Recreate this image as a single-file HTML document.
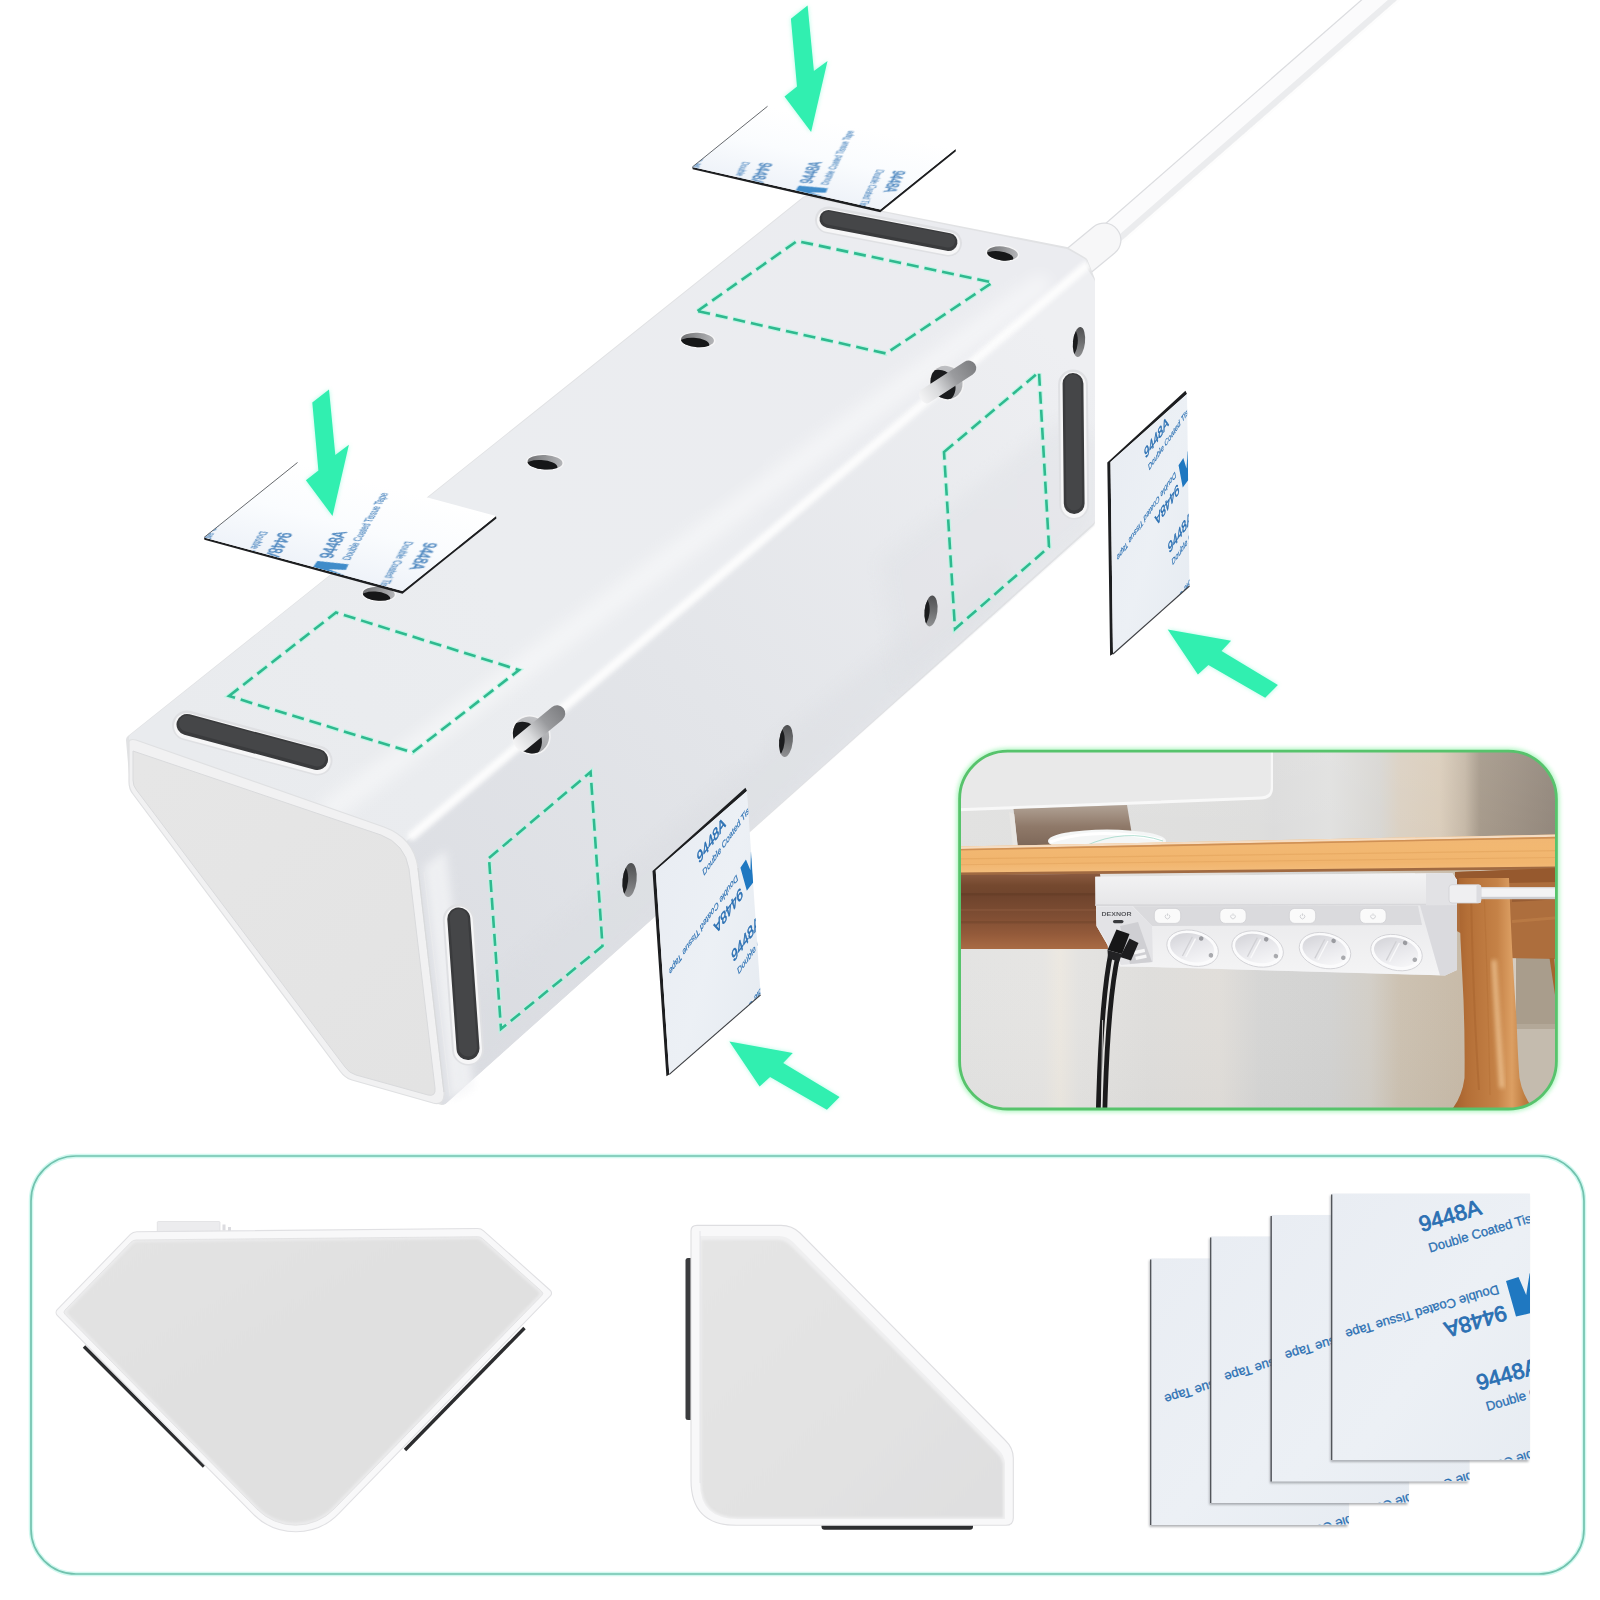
<!DOCTYPE html>
<html><head><meta charset="utf-8"><title>Adhesive mounting</title>
<style>html,body{margin:0;padding:0;background:#fff;}svg{display:block}</style></head>
<body>
<svg width="1600" height="1600" viewBox="0 0 1600 1600">
<rect width="1600" height="1600" fill="#ffffff"/>

<defs>
  <linearGradient id="gTape" x1="0" y1="0" x2="1" y2="1">
    <stop offset="0" stop-color="#e9edf3"/><stop offset="0.55" stop-color="#ecf0f5"/><stop offset="1" stop-color="#e7ecf2"/>
  </linearGradient>
  <linearGradient id="gTapeTop" x1="0" y1="0" x2="0" y2="1">
    <stop offset="0" stop-color="#ffffff"/><stop offset="0.45" stop-color="#f7f9fc"/><stop offset="1" stop-color="#e6edf6"/>
  </linearGradient>
  <clipPath id="cTape"><rect x="0" y="0" width="198" height="266"/></clipPath>
  <g id="tapeText" clip-path="url(#cTape)" font-family="'Liberation Sans', sans-serif" fill="#2b70b3">
    <g transform="translate(89.5 38.4) rotate(-16.5)">
      <text x="0" y="0" font-size="22" stroke="#2b70b3" stroke-width="0.85">9448A</text>
      <text x="2.3" y="22" font-size="13" stroke="#2b70b3" stroke-width="0.3">Double Coated Tissue Tape</text>
    </g>
    <g transform="translate(165.5 91.4) rotate(163.5)">
      <text x="0" y="0" font-size="13" stroke="#2b70b3" stroke-width="0.3">Double Coated Tissue Tape</text>
      <text x="-0.5" y="-21" font-size="22" stroke="#2b70b3" stroke-width="0.85">9448A</text>
    </g>
    <path d="M174,87.4 L186.5,83.3 L194.2,101.4 L197.6,79.8 L199,79.4 L199,119.4 L184,122.9 Z" fill="#1f78c1"/>
    <g transform="translate(147 197) rotate(-16.5)">
      <text x="0" y="0" font-size="22" stroke="#2b70b3" stroke-width="0.85">9448A</text>
      <text x="2.3" y="22" font-size="13" stroke="#2b70b3" stroke-width="0.3">Double Coated Tissue Tape</text>
    </g>
    <g transform="translate(223 250) rotate(163.5)">
      <text x="0" y="0" font-size="13" stroke="#2b70b3" stroke-width="0.3">Double Coated Tissue Tape</text>
    </g>
  </g>
  <filter id="fGlow" x="-30%" y="-30%" width="160%" height="160%">
    <feGaussianBlur stdDeviation="3"/>
  </filter>
  <filter id="fBlur2" x="-50%" y="-50%" width="200%" height="200%"><feGaussianBlur stdDeviation="2"/></filter>
  <filter id="fBlur4" x="-50%" y="-50%" width="200%" height="200%"><feGaussianBlur stdDeviation="4"/></filter>
  <filter id="fBlur8" x="-100%" y="-100%" width="300%" height="300%"><feGaussianBlur stdDeviation="8"/></filter>
  <filter id="fBlur1"><feGaussianBlur stdDeviation="1"/></filter>
  <linearGradient id="gTopFace" gradientUnits="userSpaceOnUse" x1="200" y1="760" x2="1000" y2="230">
    <stop offset="0" stop-color="#e9ebee"/><stop offset="0.35" stop-color="#ebedf0"/><stop offset="1" stop-color="#ebecf0"/>
  </linearGradient>
  <linearGradient id="gRightFace" gradientUnits="userSpaceOnUse" x1="430" y1="1000" x2="1090" y2="380">
    <stop offset="0" stop-color="#dcdee3"/><stop offset="0.45" stop-color="#e3e5e9"/><stop offset="1" stop-color="#eeeff2"/>
  </linearGradient>
  <linearGradient id="gCap" gradientUnits="userSpaceOnUse" x1="150" y1="760" x2="440" y2="1080">
    <stop offset="0" stop-color="#e6e6e6"/><stop offset="1" stop-color="#e3e3e3"/>
  </linearGradient>
</defs>


<g id="cable">
  <line x1="1391" y1="-10" x2="1090" y2="253" stroke="#dcdde0" stroke-width="25" stroke-linecap="butt"/>
  <line x1="1391" y1="-10" x2="1090" y2="253" stroke="#fbfbfc" stroke-width="22.5" stroke-linecap="butt"/>
  <line x1="1397" y1="-4" x2="1096" y2="259" stroke="#ebecee" stroke-width="6" stroke-linecap="butt"/>
  <line x1="1400" y1="-1" x2="1099" y2="262" stroke="#fdfdfd" stroke-width="2.5" stroke-linecap="butt"/>
  <line x1="1104" y1="240" x2="1070" y2="268" stroke="#dcdde0" stroke-width="35" stroke-linecap="round"/>
  <line x1="1104" y1="240" x2="1070" y2="268" stroke="#f7f7f8" stroke-width="32.5" stroke-linecap="round"/>
</g>

<g id="body">
<polygon points="131.0,740.0 806.0,201.0 1066.0,252.0 1083.0,262.0 1090.0,280.0 1090.0,522.0 442.0,1100.0 350.0,1074.0 135.0,786.0" fill="#e4e5e7" stroke="#e1e2e4" stroke-width="10" stroke-linejoin="round"/>
<polygon points="406.0,846.0 1082.0,268.0 1091.0,282.0 1091.0,520.0 444.0,1100.0" fill="url(#gRightFace)" stroke="url(#gRightFace)" stroke-width="8" stroke-linejoin="round"/>
<polygon points="133.0,738.0 806.0,201.0 1066.0,253.0 1082.0,262.0 404.0,838.0" fill="url(#gTopFace)" stroke="url(#gTopFace)" stroke-width="8" stroke-linejoin="round"/>
<defs><clipPath id="cBody"><polygon points="127.0,738.0 806.0,196.0 1066.0,248.0 1086.0,258.0 1095.0,280.0 1095.0,526.0 442.0,1106.0 347.0,1079.0 130.0,788.0"/></clipPath></defs>
<g clip-path="url(#cBody)">
<line x1="412" y1="836" x2="1086" y2="266" stroke="#fdfdfd" stroke-width="9" stroke-linecap="round" filter="url(#fBlur2)" opacity="0.95"/>
<line x1="330" y1="810" x2="1040" y2="285" stroke="#ffffff" stroke-width="22" stroke-linecap="round" filter="url(#fBlur8)" opacity="0.45"/>
<polygon points="470.0,1000.0 800.0,720.0 1000.0,560.0 1010.0,600.0 470.0,1085.0" fill="#d8dadf" filter="url(#fBlur8)" opacity="0.3"/>
<polygon points="880.0,560.0 1060.0,420.0 1095.0,440.0 1095.0,530.0 900.0,690.0" fill="#dfe1e5" filter="url(#fBlur8)" opacity="0.45"/>
</g>
<path d="M129,744 Q128,738 136,740 L384,827 Q414,838 418,868 L444,1092 Q445,1106 433,1103 L352,1080 Q345,1078 340,1071 L133,794 Q129,789 129,782 Z" fill="#f1f1f2" stroke="#dfe0e2" stroke-width="1.2"/>
<path d="M133,751 L381,835 Q405,844 409,869 L435,1088 Q436,1097 428,1095 L356,1075 Q349,1073 345,1067 L136.5,790 Q133,786 133,780 Z" fill="url(#gCap)" stroke="#d9dadc" stroke-width="1"/>
<path d="M418,868 L444,1092" stroke="#d6d7d9" stroke-width="1.2" fill="none"/>
<path d="M424,872 L450,1096" stroke="#e4e5e7" stroke-width="1" fill="none"/>
<polygon points="424,866 446,850 474,1088 450,1100" fill="#f4f5f7" opacity="0.75" filter="url(#fBlur4)"/>
<line x1="828.5" y1="220.0" x2="948.5" y2="243.0" stroke="#dfe0e3" stroke-width="27.0" stroke-linecap="round"/>
<line x1="828.5" y1="220.5" x2="948.5" y2="243.5" stroke="#f6f6f7" stroke-width="23.0" stroke-linecap="round"/>
<line x1="828.5" y1="219.0" x2="948.5" y2="242.0" stroke="#3a3b3d" stroke-width="18.0" stroke-linecap="round"/>
<line x1="828.5" y1="218.0" x2="948.5" y2="241.0" stroke="#454648" stroke-width="13.0" stroke-linecap="round"/>
<line x1="187.0" y1="725.5" x2="317.5" y2="760.5" stroke="#dfe0e3" stroke-width="30.0" stroke-linecap="round"/>
<line x1="187.0" y1="726.0" x2="317.5" y2="761.0" stroke="#f6f6f7" stroke-width="26.0" stroke-linecap="round"/>
<line x1="187.0" y1="724.5" x2="317.5" y2="759.5" stroke="#3a3b3d" stroke-width="21.0" stroke-linecap="round"/>
<line x1="187.0" y1="723.5" x2="317.5" y2="758.5" stroke="#454648" stroke-width="16.0" stroke-linecap="round"/>
<line x1="458.8" y1="920.0" x2="468.0" y2="1049.5" stroke="#dfe0e3" stroke-width="32.0" stroke-linecap="round"/>
<line x1="458.8" y1="920.5" x2="468.0" y2="1050.0" stroke="#f6f6f7" stroke-width="28.0" stroke-linecap="round"/>
<line x1="458.8" y1="919.0" x2="468.0" y2="1048.5" stroke="#3a3b3d" stroke-width="23.0" stroke-linecap="round"/>
<line x1="458.8" y1="918.0" x2="468.0" y2="1047.5" stroke="#454648" stroke-width="18.0" stroke-linecap="round"/>
<line x1="1073.0" y1="384.5" x2="1074.2" y2="504.5" stroke="#dfe0e3" stroke-width="29.8" stroke-linecap="round"/>
<line x1="1073.0" y1="385.0" x2="1074.2" y2="505.0" stroke="#f6f6f7" stroke-width="25.8" stroke-linecap="round"/>
<line x1="1073.0" y1="383.5" x2="1074.2" y2="503.5" stroke="#3a3b3d" stroke-width="20.8" stroke-linecap="round"/>
<line x1="1073.0" y1="382.5" x2="1074.2" y2="502.5" stroke="#454648" stroke-width="15.8" stroke-linecap="round"/>
<defs><linearGradient id="gHoleT" x1="0" y1="0" x2="1" y2="0"><stop offset="0" stop-color="#707173"/><stop offset="1" stop-color="#b4b5b8"/></linearGradient><linearGradient id="gHoleS" x1="0" y1="0" x2="0" y2="1"><stop offset="0" stop-color="#4f5052"/><stop offset="0.5" stop-color="#6d6e70"/><stop offset="1" stop-color="#909193"/></linearGradient></defs>
<g transform="translate(378.8 593.8) rotate(3)"><defs><clipPath id="cH1"><ellipse rx="16.0" ry="7.0"/></clipPath></defs><ellipse rx="17.5" ry="8.2" fill="#f6f6f7"/><ellipse rx="16.0" ry="7.0" fill="url(#gHoleT)"/><g clip-path="url(#cH1)"><ellipse cx="-3.5" cy="4.3" rx="15.2" ry="6.3" fill="#161718"/></g></g>
<g transform="translate(545.0 462.3) rotate(3)"><defs><clipPath id="cH2"><ellipse rx="17.5" ry="7.2"/></clipPath></defs><ellipse rx="19.0" ry="8.4" fill="#f6f6f7"/><ellipse rx="17.5" ry="7.2" fill="url(#gHoleT)"/><g clip-path="url(#cH2)"><ellipse cx="-3.9" cy="4.5" rx="16.6" ry="6.5" fill="#161718"/></g></g>
<g transform="translate(697.5 340.0) rotate(3)"><defs><clipPath id="cH3"><ellipse rx="16.5" ry="7.2"/></clipPath></defs><ellipse rx="18.0" ry="8.4" fill="#f6f6f7"/><ellipse rx="16.5" ry="7.2" fill="url(#gHoleT)"/><g clip-path="url(#cH3)"><ellipse cx="-3.6" cy="4.5" rx="15.7" ry="6.5" fill="#161718"/></g></g>
<g transform="translate(1002.5 253.5) rotate(6)"><defs><clipPath id="cH4"><ellipse rx="15.5" ry="7.0"/></clipPath></defs><ellipse rx="17.0" ry="8.2" fill="#f6f6f7"/><ellipse rx="15.5" ry="7.0" fill="url(#gHoleT)"/><g clip-path="url(#cH4)"><ellipse cx="-3.4" cy="4.3" rx="14.7" ry="6.3" fill="#161718"/></g></g>
<g transform="translate(629.6 880.0) rotate(6)"><defs><clipPath id="cH5"><ellipse rx="7.0" ry="17.0"/></clipPath></defs><ellipse rx="7.0" ry="17.0" fill="url(#gHoleS)"/><g clip-path="url(#cH5)"><ellipse cx="-8.0" cy="2.0" rx="6.6" ry="15.3" fill="#1b1c1e"/></g></g>
<g transform="translate(786.0 741.0) rotate(6)"><defs><clipPath id="cH6"><ellipse rx="6.8" ry="16.0"/></clipPath></defs><ellipse rx="6.8" ry="16.0" fill="url(#gHoleS)"/><g clip-path="url(#cH6)"><ellipse cx="-7.8" cy="1.9" rx="6.5" ry="14.4" fill="#1b1c1e"/></g></g>
<g transform="translate(931.0 611.0) rotate(6)"><defs><clipPath id="cH7"><ellipse rx="6.4" ry="15.5"/></clipPath></defs><ellipse rx="6.4" ry="15.5" fill="url(#gHoleS)"/><g clip-path="url(#cH7)"><ellipse cx="-7.4" cy="1.9" rx="6.1" ry="14.0" fill="#1b1c1e"/></g></g>
<g transform="translate(1079.0 342.0) rotate(6)"><defs><clipPath id="cH8"><ellipse rx="6.0" ry="15.0"/></clipPath></defs><ellipse rx="6.0" ry="15.0" fill="url(#gHoleS)"/><g clip-path="url(#cH8)"><ellipse cx="-6.9" cy="1.8" rx="5.7" ry="13.5" fill="#1b1c1e"/></g></g>
<defs><linearGradient id="gBand" x1="0" y1="0" x2="1" y2="0"><stop offset="0" stop-color="#f4f4f5"/><stop offset="0.3" stop-color="#d9dadc"/><stop offset="0.62" stop-color="#9a9b9e"/><stop offset="1" stop-color="#7c7d80"/></linearGradient><linearGradient id="gHole" x1="0" y1="1" x2="1" y2="0"><stop offset="0" stop-color="#8f9093"/><stop offset="1" stop-color="#d4d5d8"/></linearGradient></defs>
<g transform="translate(531.0 735.0) rotate(-39.5)"><defs><clipPath id="cHook1"><ellipse cx="0" cy="0" rx="17.5" ry="19.0"/></clipPath></defs><ellipse cx="0" cy="0" rx="19.1" ry="20.6" fill="#f3f3f4"/><g clip-path="url(#cHook1)"><rect x="-30" y="-30" width="60" height="60" fill="url(#gHole)"/><ellipse cx="-8.9" cy="-0.5" rx="17.5" ry="19.0" fill="#1a1b1d"/></g><path d="M-14.0,-8.3 L33.7,-8.3 A8.3,8.3 0 0 1 33.7,8.3 L-14.0,8.3 A5.0,8.3 0 0 1 -14.0,-8.3 Z" fill="url(#gBand)"/></g>
<g transform="translate(946.5 382.5) rotate(-33.0)"><defs><clipPath id="cHook2"><ellipse cx="0" cy="0" rx="15.6" ry="17.0"/></clipPath></defs><ellipse cx="0" cy="0" rx="17.2" ry="18.6" fill="#f3f3f4"/><g clip-path="url(#cHook2)"><rect x="-30" y="-30" width="60" height="60" fill="url(#gHole)"/><ellipse cx="-8.0" cy="-0.5" rx="15.6" ry="17.0" fill="#1a1b1d"/></g><path d="M-26.0,-7.6 L26.4,-7.6 A7.6,7.6 0 0 1 26.4,7.6 L-26.0,7.6 A4.6,7.6 0 0 1 -26.0,-7.6 Z" fill="url(#gBand)"/></g>
<polygon points="697.5,311.0 797.0,241.0 992.5,282.5 886.0,353.5" fill="none" stroke="#b5f7e2" stroke-width="5" stroke-dasharray="13 5" stroke-dashoffset="0.5" stroke-linejoin="miter" opacity="0.8"/>
<polygon points="697.5,311.0 797.0,241.0 992.5,282.5 886.0,353.5" fill="none" stroke="#2fb98f" stroke-width="2.6" stroke-dasharray="12 6" stroke-linejoin="miter"/>
<polygon points="229.0,696.0 336.0,612.5 519.0,670.0 412.5,752.5" fill="none" stroke="#b5f7e2" stroke-width="5" stroke-dasharray="13 5" stroke-dashoffset="0.5" stroke-linejoin="miter" opacity="0.8"/>
<polygon points="229.0,696.0 336.0,612.5 519.0,670.0 412.5,752.5" fill="none" stroke="#2fb98f" stroke-width="2.6" stroke-dasharray="12 6" stroke-linejoin="miter"/>
<polygon points="944.0,452.0 1039.0,372.0 1049.0,547.0 955.0,629.0" fill="none" stroke="#b5f7e2" stroke-width="5" stroke-dasharray="13 5" stroke-dashoffset="0.5" stroke-linejoin="miter" opacity="0.8"/>
<polygon points="944.0,452.0 1039.0,372.0 1049.0,547.0 955.0,629.0" fill="none" stroke="#2fb98f" stroke-width="2.6" stroke-dasharray="12 6" stroke-linejoin="miter"/>
<polygon points="489.0,858.0 590.6,772.0 602.5,946.0 501.0,1029.0" fill="none" stroke="#b5f7e2" stroke-width="5" stroke-dasharray="13 5" stroke-dashoffset="0.5" stroke-linejoin="miter" opacity="0.8"/>
<polygon points="489.0,858.0 590.6,772.0 602.5,946.0 501.0,1029.0" fill="none" stroke="#2fb98f" stroke-width="2.6" stroke-dasharray="12 6" stroke-linejoin="miter"/>
</g>
<defs><linearGradient id="gTapeTopL" x1="0" y1="0" x2="1" y2="0">
  <stop offset="0" stop-color="#ffffff"/><stop offset="0.5" stop-color="#fafcfe"/><stop offset="1" stop-color="#eff3f9"/></linearGradient>
  <linearGradient id="gFadeTop" x1="0" y1="1" x2="0" y2="0"><stop offset="0" stop-color="#fff" stop-opacity="0"/><stop offset="1" stop-color="#fff" stop-opacity="0.9"/></linearGradient>
  </defs>
<g id="topTapes">
<polygon points="692.3,167.0 692.7,169.3 880.3,212.3 955.9,151.3 955.5,148.9 880.3,209.6" fill="#1d1e20"/><g transform="matrix(-0.37980 0.30657 -0.70677 -0.16015 955.500 148.900)"><rect x="0" y="0" width="198" height="266" fill="url(#gTapeTopL)"/><use href="#tapeText" opacity="0.85"/></g><line x1="692.3" y1="167.0" x2="767.5" y2="106.3" stroke="#55585c" stroke-width="0.9"/>
<polygon points="204.0,537.5 204.4,539.8 402.5,593.7 496.4,518.4 496.0,516.0 402.5,591.0" fill="#1d1e20"/><g transform="matrix(-0.47222 0.37879 -0.74624 -0.20113 496.000 516.000)"><rect x="0" y="0" width="198" height="266" fill="url(#gTapeTopL)"/><use href="#tapeText" opacity="0.85"/></g><line x1="204.0" y1="537.5" x2="297.5" y2="462.5" stroke="#55585c" stroke-width="0.9"/>
</g>
<g id="sideTapes">
<polygon points="1107.3,462.6 1185.4,390.8 1187.0,394.0 1110.5,462.0 1113.0,654.0 1110.1,655.8" fill="#1d1e20"/><g transform="matrix(0.38636 -0.34343 0.00940 0.72180 1110.500 462.000)"><rect x="0" y="0" width="198" height="266" fill="url(#gTape)"/><use href="#tapeText" opacity="1.00"/></g><line x1="1113.0" y1="654.0" x2="1189.5" y2="586.0" stroke="#3c3e42" stroke-width="1.2"/>
<polygon points="652.5,871.1 745.4,787.8 747.0,791.0 655.7,870.5 669.3,1074.4 666.4,1076.2" fill="#1d1e20"/><g transform="matrix(0.46111 -0.40152 0.05113 0.76654 655.700 870.500)"><rect x="0" y="0" width="198" height="266" fill="url(#gTape)"/><use href="#tapeText" opacity="1.00"/></g><line x1="669.3" y1="1074.4" x2="760.6" y2="994.9" stroke="#3c3e42" stroke-width="1.2"/>
</g>
<g id="arrows">
<polygon points="790.9,18.7 807.6,5.6 813.9,71.1 827.5,60.9 811.1,132.1 784.5,96.5 797.0,86.6" fill="#5ff5c8" opacity="0.5" filter="url(#fBlur2)"/><polygon points="790.9,18.7 807.6,5.6 813.9,71.1 827.5,60.9 811.1,132.1 784.5,96.5 797.0,86.6" fill="#31efb0"/>
<polygon points="312.3,402.5 329.0,389.4 335.3,454.9 348.9,444.7 332.5,515.9 305.9,480.3 318.4,470.4" fill="#5ff5c8" opacity="0.5" filter="url(#fBlur2)"/><polygon points="312.3,402.5 329.0,389.4 335.3,454.9 348.9,444.7 332.5,515.9 305.9,480.3 318.4,470.4" fill="#31efb0"/>
<polygon points="1167.7,629.4 1231.1,640.8 1221.5,650.9 1277.9,685.0 1265.2,697.7 1208.4,664.9 1197.9,674.5" fill="#5ff5c8" opacity="0.5" filter="url(#fBlur2)"/><polygon points="1167.7,629.4 1231.1,640.8 1221.5,650.9 1277.9,685.0 1265.2,697.7 1208.4,664.9 1197.9,674.5" fill="#31efb0"/>
<polygon points="729.4,1041.5 792.8,1052.9 783.2,1063.0 839.6,1097.1 826.9,1109.8 770.1,1077.0 759.6,1086.6" fill="#5ff5c8" opacity="0.5" filter="url(#fBlur2)"/><polygon points="729.4,1041.5 792.8,1052.9 783.2,1063.0 839.6,1097.1 826.9,1109.8 770.1,1077.0 759.6,1086.6" fill="#31efb0"/>
</g>
<defs>
  <clipPath id="cInset"><rect x="959.6" y="751.2" width="596.8" height="357.8" rx="48" ry="48"/></clipPath>
  <linearGradient id="gWall" gradientUnits="userSpaceOnUse" x1="959" y1="0" x2="1557" y2="0">
    <stop offset="0" stop-color="#e0e0df"/><stop offset="0.50" stop-color="#dcdcdb"/><stop offset="0.525" stop-color="#dadada"/><stop offset="0.62" stop-color="#dfdfde"/>
    <stop offset="0.704" stop-color="#d6d4d0"/><stop offset="0.737" stop-color="#d9cebf"/><stop offset="0.804" stop-color="#d8cab7"/>
    <stop offset="0.846" stop-color="#c2b4a2"/><stop offset="0.871" stop-color="#a19484"/><stop offset="0.921" stop-color="#998c7e"/><stop offset="1" stop-color="#8b7f73"/>
  </linearGradient>
  <linearGradient id="gWallLow" gradientUnits="userSpaceOnUse" x1="959" y1="0" x2="1557" y2="0">
    <stop offset="0" stop-color="#e3e3e2"/><stop offset="0.14" stop-color="#e6e5e3"/><stop offset="0.169" stop-color="#ece8e1"/><stop offset="0.2" stop-color="#e4e3e1"/>
    <stop offset="0.32" stop-color="#dfdedc"/><stop offset="0.436" stop-color="#e1deda"/><stop offset="0.503" stop-color="#d6d6d5"/><stop offset="0.62" stop-color="#d3d3d2"/>
    <stop offset="0.687" stop-color="#d3cfc8"/><stop offset="0.737" stop-color="#cdc2b2"/><stop offset="0.838" stop-color="#c8bba9"/><stop offset="0.93" stop-color="#d6cdc1"/><stop offset="1" stop-color="#cfc6ba"/>
  </linearGradient>
  <linearGradient id="gStand" x1="0" y1="0" x2="0" y2="1"><stop offset="0" stop-color="#b1a295"/><stop offset="0.5" stop-color="#8f7969"/><stop offset="1" stop-color="#7c6657"/></linearGradient>
  <linearGradient id="gWallV" x1="0" y1="0" x2="0" y2="1">
    <stop offset="0" stop-color="#ffffff" stop-opacity="0.12"/><stop offset="0.5" stop-color="#ffffff" stop-opacity="0"/><stop offset="1" stop-color="#000000" stop-opacity="0.02"/>
  </linearGradient>
  <linearGradient id="gDeskTop" x1="0" y1="0" x2="0" y2="1">
    <stop offset="0" stop-color="#f0b673"/><stop offset="0.3" stop-color="#f2b872"/><stop offset="0.7" stop-color="#f1b56e"/><stop offset="1" stop-color="#f4bf7f"/>
  </linearGradient>
  <linearGradient id="gApron" x1="0" y1="0" x2="0" y2="1">
    <stop offset="0" stop-color="#8a5a40"/><stop offset="0.15" stop-color="#75492f"/><stop offset="0.3" stop-color="#6f442d"/><stop offset="0.55" stop-color="#7e4d33"/><stop offset="0.8" stop-color="#935a3a"/><stop offset="1" stop-color="#a96b44"/>
  </linearGradient>
  <linearGradient id="gLeg" x1="0" y1="0" x2="1" y2="0">
    <stop offset="0" stop-color="#a05c2b"/><stop offset="0.2" stop-color="#b46f37"/><stop offset="0.55" stop-color="#c58247"/><stop offset="0.72" stop-color="#dc9f63"/><stop offset="0.86" stop-color="#c07e42"/><stop offset="1" stop-color="#aa6832"/>
  </linearGradient>
  <linearGradient id="gStripTop" x1="0" y1="0" x2="0" y2="1">
    <stop offset="0" stop-color="#f3f3f4"/><stop offset="1" stop-color="#e6e6e8"/>
  </linearGradient>
  <linearGradient id="gStripFront" x1="0" y1="0" x2="0" y2="1">
    <stop offset="0" stop-color="#e9e9eb"/><stop offset="1" stop-color="#f4f4f5"/>
  </linearGradient>
  <linearGradient id="gSock2" x1="0" y1="0" x2="1" y2="1"><stop offset="0" stop-color="#cfcfd4"/><stop offset="0.45" stop-color="#e6e6ea"/><stop offset="1" stop-color="#fbfbfc"/></linearGradient>
  <radialGradient id="gSock" cx="0.4" cy="0.35" r="0.75">
    <stop offset="0" stop-color="#ffffff"/><stop offset="0.6" stop-color="#f1f1f3"/><stop offset="1" stop-color="#cfcfd3"/>
  </radialGradient>
</defs>
<rect x="959.6" y="751.2" width="596.8" height="357.8" rx="48" ry="48" fill="none" stroke="#7cf09a" stroke-width="6" filter="url(#fBlur2)" opacity="0.6"/>
<g clip-path="url(#cInset)">
<rect x="955" y="745" width="610" height="130" fill="url(#gWall)"/>
<rect x="955" y="870" width="610" height="245" fill="url(#gWallLow)"/>
<rect x="955" y="745" width="610" height="370" fill="url(#gWallV)"/>
<path d="M955,745 L1272.5,745 L1272.5,788 Q1272,798 1261,798.5 L955,810.5 Z" fill="#e9e9e9"/>
<path d="M955,808.5 L1261,796.5 Q1270.5,796 1270.8,788 L1270.8,745 L1273,745 L1273,789 Q1272.5,799 1261,799.5 L955,811.5 Z" fill="#f8f8f8"/>
<path d="M1013.5,809 L1127,805 L1134,847 L1018,848 Z" fill="url(#gStand)"/>
<path d="M1014.2,814 L1017.6,847 L1013,847 L1009,812 Z" fill="#e8e6e3"/>
<ellipse cx="1107" cy="841" rx="59" ry="11.5" fill="#f4f6f6"/>
<path d="M1050,842 Q1095,826 1162,840" stroke="#ffffff" stroke-width="3" fill="none"/>
<path d="M1085,846 Q1125,828 1163,841" stroke="#9fd8c8" stroke-width="0.8" fill="none"/>
<polygon points="955,846.5 1560,834.5 1560,868 955,874.5" fill="url(#gDeskTop)"/>
<polygon points="955,846.5 1560,834.5 1560,836.8 955,849" fill="#f5dcc2"/>
<polygon points="955,849 1560,836.8 1560,838.4 955,850.6" fill="#cf9055"/>
<polygon points="955,858.3 1560,850 1560,851.2 955,859.6" fill="#e3a35c" opacity="0.6"/>
<polygon points="955,864.3 1560,857 1560,858 955,865.3" fill="#e0a05a" opacity="0.5"/>
<polygon points="955,872.6 1560,866.4 1560,869.2 955,875.5" fill="#a06a42"/>
<polygon points="955,875 1100,873.8 1108,949 955,949" fill="url(#gApron)"/>
<rect x="955" y="893" width="150" height="2.5" fill="#5e3823" opacity="0.45"/>
<rect x="955" y="909" width="150" height="2" fill="#8c5a3e" opacity="0.5"/>
<rect x="955" y="921" width="150" height="2.4" fill="#6a4029" opacity="0.4"/>
<rect x="1516" y="955" width="45" height="75" fill="#a99d8c"/>
<rect x="1516" y="1026" width="45" height="90" fill="#c4bbae"/>
<rect x="1516" y="1024" width="45" height="5" fill="#b3a898"/>
<polygon points="1455,872 1560,868 1560,959 1505,958 1455,930" fill="#ad6e3d"/>
<polygon points="1455,872 1560,868 1560,882 1455,884" fill="#96592e"/>
<polygon points="1512,896 1560,893 1560,899 1512,902" fill="#8f5630" opacity="0.7"/>
<polygon points="1512,920 1560,916 1560,919 1512,923" fill="#c08049" opacity="0.6"/>
<polygon points="1549.5,958 1554,958 1557.5,995 1555,995" fill="#a5652f"/>
<path d="M1458.5,878 L1509,878 Q1511.5,950 1516.5,1019 Q1518,1060 1519.5,1078 Q1523,1098 1536,1112 L1450,1112 Q1462,1098 1464.5,1078 Q1465,1040 1463.5,1000 Q1460,940 1458.5,878 Z" fill="url(#gLeg)"/>
<path d="M1494,960 Q1498,1030 1502,1088" stroke="#f7d2a3" stroke-width="5" fill="none" opacity="0.7" filter="url(#fBlur2)"/>
<path d="M1471,890 Q1473,1000 1479,1090" stroke="#a3602b" stroke-width="2" fill="none" opacity="0.4"/>
<path d="M1484,890 Q1488,990 1490,1095" stroke="#b06c33" stroke-width="1.2" fill="none" opacity="0.4"/>
<polygon points="1095.3,876.7 1452,873 1457,880 1457,970 1445,975.5 1152,967 1120,966.5 1096.5,926" fill="#ebebed"/>
<polygon points="1095.3,876.7 1452,873 1457,880 1457,905 1095.3,905.5" fill="url(#gStripTop)"/>
<polygon points="1095.3,904.2 1457,903.8 1457,905.6 1095.3,906" fill="#d7d7da"/>
<polygon points="1096,906 1420,905.5 1440,975.3 1152,967 1120,966.5 1096.5,926" fill="url(#gStripFront)"/>
<polygon points="1420,905.5 1457,905 1457,970 1445,975.5 1440,975.3" fill="#dadade"/>
<polygon points="1426,873.3 1452,873 1457,880 1457,905 1426,905.3" fill="#e2e2e5"/>
<polygon points="1133,906.3 1418,905.8 1422,925 1152,926" fill="#dadadd"/>
<polygon points="1096.5,907 1132,906.5 1152,926 1153,962 1121,965 1097,926" fill="#e3e3e6"/>
<polygon points="1120,926 1138,922 1152,962 1130,964" fill="#cfcfd3"/>
<text x="1101.5" y="915.6" font-family="'Liberation Sans', sans-serif" font-size="4.6" font-weight="bold" fill="#5b5c60" textLength="30" lengthAdjust="spacingAndGlyphs">DEXNOR</text>
<rect x="1113" y="920" width="10.5" height="3.2" rx="1.6" fill="#3a3b3e"/>
<rect x="1134" y="950" width="11" height="3.4" fill="#f6f6f7" transform="rotate(-12 1139 952)"/>
<rect x="1135.5" y="955.5" width="11" height="3.4" fill="#f6f6f7" transform="rotate(-12 1141 957)"/>
<rect x="1154.3" y="908.4" width="26.4" height="15" rx="5.5" fill="#fafafa" stroke="#cfcfd3" stroke-width="0.8"/>
<path d="M1166.2,914.6 a2.3,2.3 0 1 0 2.6,0 M1167.5,913.4 v2.4" fill="none" stroke="#c9cace" stroke-width="0.8"/>
<rect x="1219.8" y="908.4" width="26.4" height="15" rx="5.5" fill="#fafafa" stroke="#cfcfd3" stroke-width="0.8"/>
<path d="M1231.7,914.6 a2.3,2.3 0 1 0 2.6,0 M1233.0,913.4 v2.4" fill="none" stroke="#c9cace" stroke-width="0.8"/>
<rect x="1289.3" y="908.4" width="26.4" height="15" rx="5.5" fill="#fafafa" stroke="#cfcfd3" stroke-width="0.8"/>
<path d="M1301.2,914.6 a2.3,2.3 0 1 0 2.6,0 M1302.5,913.4 v2.4" fill="none" stroke="#c9cace" stroke-width="0.8"/>
<rect x="1359.8" y="908.4" width="26.4" height="15" rx="5.5" fill="#fafafa" stroke="#cfcfd3" stroke-width="0.8"/>
<path d="M1371.7,914.6 a2.3,2.3 0 1 0 2.6,0 M1373.0,913.4 v2.4" fill="none" stroke="#c9cace" stroke-width="0.8"/>
<g transform="translate(1192.6 948.2) rotate(14)"><ellipse rx="26.2" ry="17.6" fill="#fbfbfc" stroke="#d2d2d6" stroke-width="0.9"/><ellipse cx="-0.5" cy="-0.4" rx="22.5" ry="14.2" fill="url(#gSock2)"/><path d="M-3,-11 L-8,10" stroke="#d0d0d4" stroke-width="1.3"/><path d="M0.5,-10 L-4.5,10.5" stroke="#f9f9fa" stroke-width="1.3"/><circle cx="6" cy="-11.5" r="2.3" fill="#9a9ba0"/><circle cx="19.5" cy="2.5" r="2.3" fill="#a9aaae"/></g>
<g transform="translate(1257.6 949.0) rotate(14)"><ellipse rx="26.2" ry="17.6" fill="#fbfbfc" stroke="#d2d2d6" stroke-width="0.9"/><ellipse cx="-0.5" cy="-0.4" rx="22.5" ry="14.2" fill="url(#gSock2)"/><path d="M-3,-11 L-8,10" stroke="#d0d0d4" stroke-width="1.3"/><path d="M0.5,-10 L-4.5,10.5" stroke="#f9f9fa" stroke-width="1.3"/><circle cx="6" cy="-11.5" r="2.3" fill="#9a9ba0"/><circle cx="19.5" cy="2.5" r="2.3" fill="#a9aaae"/></g>
<g transform="translate(1325.0 950.6) rotate(14)"><ellipse rx="26.2" ry="17.6" fill="#fbfbfc" stroke="#d2d2d6" stroke-width="0.9"/><ellipse cx="-0.5" cy="-0.4" rx="22.5" ry="14.2" fill="url(#gSock2)"/><path d="M-3,-11 L-8,10" stroke="#d0d0d4" stroke-width="1.3"/><path d="M0.5,-10 L-4.5,10.5" stroke="#f9f9fa" stroke-width="1.3"/><circle cx="6" cy="-11.5" r="2.3" fill="#9a9ba0"/><circle cx="19.5" cy="2.5" r="2.3" fill="#a9aaae"/></g>
<g transform="translate(1396.5 952.6) rotate(14)"><ellipse rx="26.2" ry="17.6" fill="#fbfbfc" stroke="#d2d2d6" stroke-width="0.9"/><ellipse cx="-0.5" cy="-0.4" rx="22.5" ry="14.2" fill="url(#gSock2)"/><path d="M-3,-11 L-8,10" stroke="#d0d0d4" stroke-width="1.3"/><path d="M0.5,-10 L-4.5,10.5" stroke="#f9f9fa" stroke-width="1.3"/><circle cx="6" cy="-11.5" r="2.3" fill="#9a9ba0"/><circle cx="19.5" cy="2.5" r="2.3" fill="#a9aaae"/></g>
<rect x="1456" y="887.5" width="104" height="11.5" fill="#f3f3f4"/>
<rect x="1456" y="896.8" width="104" height="2.4" fill="#cdcdd0"/>
<rect x="1456" y="887.2" width="104" height="1.2" fill="#dedee1"/>
<rect x="1449" y="884.7" width="32" height="18.3" rx="3" fill="#efeff1" stroke="#d0d0d4" stroke-width="0.8"/>
<rect x="1476.5" y="884.7" width="4.5" height="18.3" rx="1.5" fill="#dcdce0"/>
<path d="M1111,952 Q1101,1000 1098.3,1112" stroke="#1b1b1c" stroke-width="4.8" fill="none"/>
<path d="M1118,955 Q1107.5,1004 1104.8,1112" stroke="#1b1b1c" stroke-width="4.8" fill="none"/>
<path d="M1102.6,1020 L1101.5,1112" stroke="#e8e8e8" stroke-width="1" fill="none" opacity="0.8"/>
<polygon points="1116.5,929.5 1129.5,934 1122,954 1107.5,950" fill="#161617"/>
<polygon points="1129.5,938.5 1138.5,943 1131,960.5 1120,957 " fill="#1d1d1f"/>
<polygon points="1107.5,950 1122,954 1119,962 1108,958" fill="#222224"/>
</g>
<rect x="959.6" y="751.2" width="596.8" height="357.8" rx="48" ry="48" fill="none" stroke="#57c36c" stroke-width="2.8"/>
<rect x="31" y="1156" width="1553" height="418" rx="45" ry="45" fill="none" stroke="#bdf7ea" stroke-width="4.5" opacity="0.7"/>
<rect x="31" y="1156" width="1553" height="418" rx="45" ry="45" fill="none" stroke="#72c2ae" stroke-width="1.7"/>
<defs>
  <linearGradient id="gEnd" x1="0" y1="0" x2="1" y2="1"><stop offset="0" stop-color="#e3e3e3"/><stop offset="0.5" stop-color="#e0e0e0"/><stop offset="1" stop-color="#e1e1e1"/></linearGradient>
  <linearGradient id="gSide" x1="0" y1="0" x2="1" y2="1"><stop offset="0" stop-color="#e5e5e5"/><stop offset="0.6" stop-color="#e2e2e2"/><stop offset="1" stop-color="#dfdfe0"/></linearGradient>
</defs>
<g id="endView">
<line x1="84" y1="1346.5" x2="204" y2="1466.5" stroke="#2c2d2f" stroke-width="3.4"/>
<line x1="524.5" y1="1328" x2="405" y2="1450" stroke="#2c2d2f" stroke-width="3.4"/>
<rect x="157.3" y="1221.5" width="62.7" height="10" rx="1" fill="#ececee" stroke="#dcdcdf" stroke-width="0.7"/>
<rect x="222.5" y="1224.5" width="3" height="6" fill="#dcdce0"/><rect x="228" y="1227" width="3" height="4" fill="#dcdce0"/>
<path d="M130.38,1234.49 A9.00,9.00 0 0 1 136.75,1231.76 L477.52,1228.53 A9.00,9.00 0 0 1 483.60,1230.82 L550.18,1290.22 A4.00,4.00 0 0 1 550.39,1295.99 L338.72,1513.58 A60.00,60.00 0 0 1 252.99,1513.86 L57.25,1315.29 A4.00,4.00 0 0 1 57.23,1309.69 Z" fill="#f8f8f9" stroke="#e0e0e3" stroke-width="1.1"/>
<path d="M131.08,1242.09 A7.00,7.00 0 0 1 136.03,1239.97 L477.73,1236.73 A7.00,7.00 0 0 1 482.45,1238.51 L541.57,1291.25 A3.00,3.00 0 0 1 541.72,1295.58 L334.21,1508.90 A54.00,54.00 0 0 1 257.05,1509.15 L64.96,1314.28 A3.00,3.00 0 0 1 64.94,1310.08 Z" fill="#ebebec" stroke="#dfdfe1" stroke-width="0.8"/>
<path d="M132.92,1244.08 A6.00,6.00 0 0 1 137.16,1242.26 L476.95,1239.04 A6.00,6.00 0 0 1 481.00,1240.56 L537.96,1291.37 A3.00,3.00 0 0 1 538.11,1295.71 L332.64,1506.93 A52.00,52.00 0 0 1 258.33,1507.18 L68.46,1314.55 A3.00,3.00 0 0 1 68.44,1310.35 Z" fill="url(#gEnd)" filter="url(#fBlur1)"/>
</g>
<g id="sideView">
<rect x="685.5" y="1258" width="8" height="162" rx="2.5" fill="#3b3c3e"/>
<rect x="821.5" y="1522" width="151.5" height="7.8" rx="3" fill="#2c2d2f"/>
<path d="M697,1225.4 L781,1225.4 Q792,1225.4 800,1233 L1005,1440 Q1013.3,1448 1013.3,1458 L1013.3,1518 Q1013.3,1525.3 1006,1525.3 L736,1525.3 Q691,1525.3 691,1480 L691,1231 Q691,1225.4 697,1225.4 Z" fill="#f8f8f9" stroke="#dedee1" stroke-width="1.1"/>
<path d="M700,1236 L779,1236 Q787,1236 793,1242 L998,1449 Q1005,1456 1005,1464 L1005,1519 L738,1519 Q700,1519 700,1483 Z" fill="#efeff0"/>
<path d="M701.5,1240 L778,1240 Q785,1240 791,1246 L996,1452 Q1003,1459 1003,1466 L1003,1517.5 L739,1517.5 Q701.5,1517.5 701.5,1482 Z" fill="url(#gSide)" filter="url(#fBlur1)"/>
<path d="M700,1483 L700,1231" stroke="#e3e3e6" stroke-width="0.9"/>
</g>
<g id="stack">
<rect x="1149.4" y="1260.3" width="198" height="266.5" fill="#6d7076" opacity="0.55" filter="url(#fBlur1)"/>
<g transform="translate(1151.0 1258.5)"><rect width="198" height="266.5" fill="url(#gTape)"/><use href="#tapeText"/></g>
<line x1="1150.7" y1="1259.5" x2="1150.7" y2="1525.0" stroke="#4d5056" stroke-width="1.3"/>
<rect x="1209.4" y="1238.3" width="198" height="266.5" fill="#6d7076" opacity="0.55" filter="url(#fBlur1)"/>
<g transform="translate(1211.0 1236.5)"><rect width="198" height="266.5" fill="url(#gTape)"/><use href="#tapeText"/></g>
<line x1="1210.7" y1="1237.5" x2="1210.7" y2="1503.0" stroke="#4d5056" stroke-width="1.3"/>
<rect x="1269.9" y="1216.8" width="198" height="266.5" fill="#6d7076" opacity="0.55" filter="url(#fBlur1)"/>
<g transform="translate(1271.5 1215.0)"><rect width="198" height="266.5" fill="url(#gTape)"/><use href="#tapeText"/></g>
<line x1="1271.2" y1="1216.0" x2="1271.2" y2="1481.5" stroke="#4d5056" stroke-width="1.3"/>
<rect x="1330.4" y="1195.4" width="198" height="266.5" fill="#6d7076" opacity="0.55" filter="url(#fBlur1)"/>
<g transform="translate(1332.0 1193.6)"><rect width="198" height="266.5" fill="url(#gTape)"/><use href="#tapeText"/></g>
<line x1="1331.7" y1="1194.6" x2="1331.7" y2="1460.1" stroke="#4d5056" stroke-width="1.3"/>
</g>
</svg>
</body></html>
